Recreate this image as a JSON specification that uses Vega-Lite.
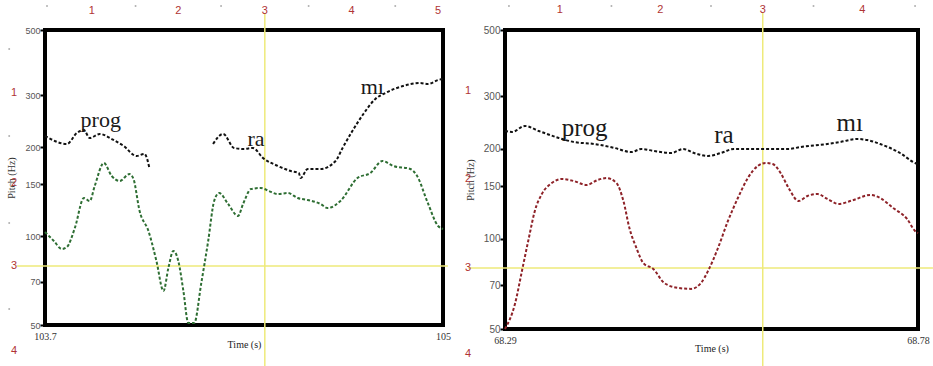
{
  "$schema": "https://vega.github.io/schema/vega-lite/v6.json",
  "background": "white",
  "padding": {"left": 4, "top": 1, "right": 0, "bottom": 0},
  "spacing": 62,
  "bounds": "flush",
  "resolve": {"scale": {"x": "independent", "y": "independent"}},
  "config": {
    "view": {"stroke": "black", "strokeWidth": 4},
    "axisY": {"labelFont": "Liberation Sans", "labelFontSize": 9, "labelColor": "#555555", "tickColor": "#000000", "tickSize": 5, "tickWidth": 2, "domain": false, "grid": false, "labelPadding": 0, "titleFont": "Liberation Serif", "titleFontSize": 10, "titleFontWeight": "normal", "titleColor": "#333333", "titlePadding": 8},
    "axisX": {"labelFont": "Liberation Serif", "labelFontSize": 10, "labelColor": "#333333", "ticks": false, "domain": false, "grid": false, "labelFlush": false, "labelPadding": 6, "titleFont": "Liberation Serif", "titleFontSize": 10, "titleFontWeight": "normal", "titleColor": "#222222", "titlePadding": -2}
  },
  "datasets": {
    "L_curves": [
      {"s": "black", "g": "b1", "t": 103.7, "f": 218.6},
      {"s": "black", "g": "b1", "t": 103.7715, "f": 205.4},
      {"s": "black", "g": "b1", "t": 103.804, "f": 223.8},
      {"s": "black", "g": "b1", "t": 103.8268, "f": 229.1},
      {"s": "black", "g": "b1", "t": 103.846, "f": 215.2},
      {"s": "black", "g": "b1", "t": 103.879, "f": 222.1},
      {"s": "black", "g": "b1", "t": 103.918, "f": 213.5},
      {"s": "black", "g": "b1", "t": 103.957, "f": 202.2},
      {"s": "black", "g": "b1", "t": 103.999, "f": 187.0},
      {"s": "black", "g": "b1", "t": 104.025, "f": 190.0},
      {"s": "black", "g": "b1", "t": 104.041, "f": 170.3},
      {"s": "black", "g": "b2", "t": 104.249, "f": 205.4},
      {"s": "black", "g": "b2", "t": 104.282, "f": 222.1},
      {"s": "black", "g": "b2", "t": 104.3175, "f": 199.1},
      {"s": "black", "g": "b2", "t": 104.35, "f": 197.5},
      {"s": "black", "g": "b2", "t": 104.379, "f": 199.1},
      {"s": "black", "g": "b2", "t": 104.412, "f": 184.1},
      {"s": "black", "g": "b2", "t": 104.4605, "f": 173.0},
      {"s": "black", "g": "b2", "t": 104.503, "f": 166.3},
      {"s": "black", "g": "b2", "t": 104.529, "f": 163.8},
      {"s": "black", "g": "b2", "t": 104.535, "f": 157.5},
      {"s": "black", "g": "b2", "t": 104.558, "f": 169.0},
      {"s": "black", "g": "b2", "t": 104.6, "f": 169.0},
      {"s": "black", "g": "b2", "t": 104.649, "f": 179.8},
      {"s": "black", "g": "b2", "t": 104.672, "f": 199.1},
      {"s": "black", "g": "b2", "t": 104.704, "f": 227.3},
      {"s": "black", "g": "b2", "t": 104.74, "f": 259.6},
      {"s": "black", "g": "b2", "t": 104.779, "f": 291.9},
      {"s": "black", "g": "b2", "t": 104.8115, "f": 305.8},
      {"s": "black", "g": "b2", "t": 104.87, "f": 323.0},
      {"s": "black", "g": "b2", "t": 104.925, "f": 330.6},
      {"s": "black", "g": "b2", "t": 104.951, "f": 328.0},
      {"s": "black", "g": "b2", "t": 104.984, "f": 338.4},
      {"s": "black", "g": "b2", "t": 105.0, "f": 341.1},
      {"s": "green", "g": "g", "t": 103.7, "f": 103.3},
      {"s": "green", "g": "g", "t": 103.7065, "f": 101.7},
      {"s": "green", "g": "g", "t": 103.729, "f": 96.3},
      {"s": "green", "g": "g", "t": 103.755, "f": 90.5},
      {"s": "green", "g": "g", "t": 103.7715, "f": 91.9},
      {"s": "green", "g": "g", "t": 103.7975, "f": 106.6},
      {"s": "green", "g": "g", "t": 103.827, "f": 134.7},
      {"s": "green", "g": "g", "t": 103.846, "f": 131.6},
      {"s": "green", "g": "g", "t": 103.8625, "f": 148.0},
      {"s": "green", "g": "g", "t": 103.892, "f": 177.1},
      {"s": "green", "g": "g", "t": 103.918, "f": 160.0},
      {"s": "green", "g": "g", "t": 103.944, "f": 153.9},
      {"s": "green", "g": "g", "t": 103.976, "f": 162.5},
      {"s": "green", "g": "g", "t": 103.989, "f": 156.3},
      {"s": "green", "g": "g", "t": 104.009, "f": 121.7},
      {"s": "green", "g": "g", "t": 104.038, "f": 104.1},
      {"s": "green", "g": "g", "t": 104.064, "f": 82.4},
      {"s": "green", "g": "g", "t": 104.087, "f": 65.2},
      {"s": "green", "g": "g", "t": 104.103, "f": 78.0},
      {"s": "green", "g": "g", "t": 104.119, "f": 89.1},
      {"s": "green", "g": "g", "t": 104.1355, "f": 82.4},
      {"s": "green", "g": "g", "t": 104.152, "f": 65.2},
      {"s": "green", "g": "g", "t": 104.168, "f": 50.8},
      {"s": "green", "g": "g", "t": 104.1875, "f": 50.8},
      {"s": "green", "g": "g", "t": 104.21, "f": 68.9},
      {"s": "green", "g": "g", "t": 104.233, "f": 96.3},
      {"s": "green", "g": "g", "t": 104.2525, "f": 131.6},
      {"s": "green", "g": "g", "t": 104.269, "f": 140.1},
      {"s": "green", "g": "g", "t": 104.298, "f": 128.6},
      {"s": "green", "g": "g", "t": 104.3305, "f": 117.1},
      {"s": "green", "g": "g", "t": 104.347, "f": 128.6},
      {"s": "green", "g": "g", "t": 104.373, "f": 144.5},
      {"s": "green", "g": "g", "t": 104.405, "f": 145.7},
      {"s": "green", "g": "g", "t": 104.431, "f": 142.3},
      {"s": "green", "g": "g", "t": 104.4605, "f": 139.0},
      {"s": "green", "g": "g", "t": 104.493, "f": 140.1},
      {"s": "green", "g": "g", "t": 104.5255, "f": 134.7},
      {"s": "green", "g": "g", "t": 104.558, "f": 132.6},
      {"s": "green", "g": "g", "t": 104.6, "f": 128.6},
      {"s": "green", "g": "g", "t": 104.623, "f": 124.6},
      {"s": "green", "g": "g", "t": 104.665, "f": 131.6},
      {"s": "green", "g": "g", "t": 104.7205, "f": 157.5},
      {"s": "green", "g": "g", "t": 104.763, "f": 163.8},
      {"s": "green", "g": "g", "t": 104.802, "f": 179.8},
      {"s": "green", "g": "g", "t": 104.8375, "f": 173.0},
      {"s": "green", "g": "g", "t": 104.893, "f": 169.0},
      {"s": "green", "g": "g", "t": 104.9155, "f": 160.0},
      {"s": "green", "g": "g", "t": 104.948, "f": 131.6},
      {"s": "green", "g": "g", "t": 104.984, "f": 108.3},
      {"s": "green", "g": "g", "t": 105.0, "f": 105.8}
    ],
    "R_curves": [
      {"s": "black", "g": "b", "t": 68.29, "f": 229.7},
      {"s": "black", "g": "b", "t": 68.2983, "f": 228.0},
      {"s": "black", "g": "b", "t": 68.3136, "f": 238.7},
      {"s": "black", "g": "b", "t": 68.3301, "f": 229.7},
      {"s": "black", "g": "b", "t": 68.3538, "f": 217.7},
      {"s": "black", "g": "b", "t": 68.3715, "f": 211.1},
      {"s": "black", "g": "b", "t": 68.3963, "f": 207.8},
      {"s": "black", "g": "b", "t": 68.4199, "f": 201.6},
      {"s": "black", "g": "b", "t": 68.44, "f": 195.4},
      {"s": "black", "g": "b", "t": 68.4518, "f": 200.0},
      {"s": "black", "g": "b", "t": 68.4671, "f": 196.9},
      {"s": "black", "g": "b", "t": 68.4872, "f": 193.9},
      {"s": "black", "g": "b", "t": 68.5013, "f": 200.0},
      {"s": "black", "g": "b", "t": 68.5143, "f": 193.9},
      {"s": "black", "g": "b", "t": 68.5309, "f": 189.5},
      {"s": "black", "g": "b", "t": 68.5462, "f": 193.9},
      {"s": "black", "g": "b", "t": 68.5616, "f": 200.0},
      {"s": "black", "g": "b", "t": 68.5934, "f": 200.0},
      {"s": "black", "g": "b", "t": 68.6265, "f": 200.0},
      {"s": "black", "g": "b", "t": 68.6407, "f": 203.1},
      {"s": "black", "g": "b", "t": 68.6725, "f": 207.8},
      {"s": "black", "g": "b", "t": 68.6879, "f": 211.1},
      {"s": "black", "g": "b", "t": 68.7079, "f": 216.0},
      {"s": "black", "g": "b", "t": 68.7198, "f": 214.3},
      {"s": "black", "g": "b", "t": 68.7351, "f": 207.8},
      {"s": "black", "g": "b", "t": 68.7587, "f": 193.9},
      {"s": "black", "g": "b", "t": 68.7765, "f": 179.6},
      {"s": "black", "g": "b", "t": 68.78, "f": 178.2},
      {"s": "red", "g": "r", "t": 68.29, "f": 50.0},
      {"s": "red", "g": "r", "t": 68.3018, "f": 60.6},
      {"s": "red", "g": "r", "t": 68.3101, "f": 78.2},
      {"s": "red", "g": "r", "t": 68.3183, "f": 100.8},
      {"s": "red", "g": "r", "t": 68.3254, "f": 124.1},
      {"s": "red", "g": "r", "t": 68.3337, "f": 141.4},
      {"s": "red", "g": "r", "t": 68.3455, "f": 153.9},
      {"s": "red", "g": "r", "t": 68.3573, "f": 158.8},
      {"s": "red", "g": "r", "t": 68.3715, "f": 156.3},
      {"s": "red", "g": "r", "t": 68.3868, "f": 151.6},
      {"s": "red", "g": "r", "t": 68.4, "f": 157.5},
      {"s": "red", "g": "r", "t": 68.4104, "f": 159.9},
      {"s": "red", "g": "r", "t": 68.4222, "f": 153.9},
      {"s": "red", "g": "r", "t": 68.4305, "f": 134.0},
      {"s": "red", "g": "r", "t": 68.4376, "f": 108.8},
      {"s": "red", "g": "r", "t": 68.4459, "f": 93.3},
      {"s": "red", "g": "r", "t": 68.4541, "f": 83.1},
      {"s": "red", "g": "r", "t": 68.4659, "f": 79.4},
      {"s": "red", "g": "r", "t": 68.4789, "f": 71.3},
      {"s": "red", "g": "r", "t": 68.4954, "f": 68.6},
      {"s": "red", "g": "r", "t": 68.5108, "f": 68.1},
      {"s": "red", "g": "r", "t": 68.5226, "f": 71.3},
      {"s": "red", "g": "r", "t": 68.5309, "f": 78.2},
      {"s": "red", "g": "r", "t": 68.5427, "f": 93.3},
      {"s": "red", "g": "r", "t": 68.5545, "f": 114.9},
      {"s": "red", "g": "r", "t": 68.5663, "f": 137.1},
      {"s": "red", "g": "r", "t": 68.5781, "f": 159.9},
      {"s": "red", "g": "r", "t": 68.5899, "f": 175.5},
      {"s": "red", "g": "r", "t": 68.5993, "f": 179.6},
      {"s": "red", "g": "r", "t": 68.6076, "f": 178.2},
      {"s": "red", "g": "r", "t": 68.617, "f": 166.2},
      {"s": "red", "g": "r", "t": 68.6265, "f": 148.1},
      {"s": "red", "g": "r", "t": 68.6383, "f": 134.0},
      {"s": "red", "g": "r", "t": 68.6489, "f": 139.3},
      {"s": "red", "g": "r", "t": 68.6607, "f": 141.4},
      {"s": "red", "g": "r", "t": 68.6725, "f": 136.1},
      {"s": "red", "g": "r", "t": 68.6856, "f": 131.0},
      {"s": "red", "g": "r", "t": 68.7033, "f": 135.0},
      {"s": "red", "g": "r", "t": 68.7233, "f": 140.4},
      {"s": "red", "g": "r", "t": 68.7351, "f": 137.1},
      {"s": "red", "g": "r", "t": 68.7505, "f": 127.0},
      {"s": "red", "g": "r", "t": 68.767, "f": 116.7},
      {"s": "red", "g": "r", "t": 68.7765, "f": 106.4},
      {"s": "red", "g": "r", "t": 68.78, "f": 104.7}
    ],
    "L_rules": [
      {"t": 104.418, "f": 571, "t2": 104.418, "f2": 36},
      {"t": 103.609, "f": 79.25, "t2": 105.016, "f2": 79.25}
    ],
    "R_rules": [
      {"t": 68.5958, "f": 570, "t2": 68.5958, "f2": 37.3},
      {"t": 68.2463, "f": 80.0, "t2": 68.7977, "f2": 80.0}
    ],
    "L_syl": [
      {"t": 103.882, "f": 234.6, "l": "prog"},
      {"t": 104.389, "f": 202.2, "l": "ra"},
      {"t": 104.769, "f": 303.4, "l": "mı"}
    ],
    "R_syl": [
      {"t": 68.3845, "f": 221.1, "l": "prog"},
      {"t": 68.5498, "f": 209.5, "l": "ra"},
      {"t": 68.6989, "f": 229.7, "l": "mı"}
    ],
    "L_grid": [
      {"t": 103.853, "f": 580, "l": "1"},
      {"t": 104.1355, "f": 580, "l": "2"},
      {"t": 104.418, "f": 580, "l": "3"},
      {"t": 104.701, "f": 580, "l": "4"},
      {"t": 104.984, "f": 580, "l": "5"},
      {"t": 103.599, "f": 305.8, "l": "1"},
      {"t": 103.599, "f": 151.5, "l": "2"},
      {"t": 103.599, "f": 79.25, "l": "3"},
      {"t": 103.599, "f": 40.8, "l": "4"}
    ],
    "R_grid": [
      {"t": 68.3549, "f": 583.4, "l": "1"},
      {"t": 68.4742, "f": 583.4, "l": "2"},
      {"t": 68.5958, "f": 583.4, "l": "3"},
      {"t": 68.7139, "f": 583.4, "l": "4"},
      {"t": 68.2463, "f": 312.6, "l": "1"},
      {"t": 68.2463, "f": 158.8, "l": "2"},
      {"t": 68.2463, "f": 80.0, "l": "3"},
      {"t": 68.2463, "f": 41.2, "l": "4"}
    ],
    "L_dots": [
      {"t": 103.7065, "f": 603},
      {"t": 103.9958, "f": 603},
      {"t": 104.275, "f": 603},
      {"t": 104.561, "f": 603},
      {"t": 104.844, "f": 603},
      {"t": 103.583, "f": 431},
      {"t": 103.583, "f": 218.6},
      {"t": 103.583, "f": 110.8},
      {"t": 103.583, "f": 56.6}
    ],
    "R_dots": [
      {"t": 68.2947, "f": 601.5},
      {"t": 68.4163, "f": 601.5},
      {"t": 68.5344, "f": 601.5},
      {"t": 68.656, "f": 601.5},
      {"t": 68.7765, "f": 601.5}
    ]
  },
  "hconcat": [
    {
      "width": 398,
      "height": 295,
      "encoding": {
        "x": {"field": "t", "type": "quantitative", "scale": {"domain": [103.7, 105], "nice": false, "zero": false}, "axis": {"values": [103.7, 105], "format": ".4~g", "title": "Time (s)"}},
        "y": {"field": "f", "type": "quantitative", "scale": {"type": "log", "domain": [50, 500], "nice": false}, "axis": {"values": [50, 70, 100, 150, 200, 300, 500], "format": "~g", "title": "Pitch (Hz)"}}
      },
      "layer": [
        {"data": {"name": "L_rules"}, "mark": {"type": "rule", "color": "#eeea7a", "strokeWidth": 1.5}, "encoding": {"x2": {"field": "t2"}, "y2": {"field": "f2"}}},
        {"data": {"name": "L_grid"}, "mark": {"type": "text", "font": "Liberation Sans", "fontSize": 11, "color": "#b03434", "baseline": "middle", "align": "center"}, "encoding": {"text": {"field": "l"}}},
        {"data": {"name": "L_dots"}, "mark": {"type": "point", "filled": true, "size": 4, "color": "#b0b0b0", "opacity": 1}, "encoding": {}},
        {"data": {"name": "L_curves"}, "mark": {"type": "line", "strokeDash": [3, 2], "strokeWidth": 2, "interpolate": "monotone"}, "encoding": {"color": {"field": "s", "type": "nominal", "scale": {"domain": ["black", "green", "red"], "range": ["#111111", "#2e6e33", "#8e2228"]}, "legend": null}, "detail": {"field": "g"}}},
        {"data": {"name": "L_syl"}, "mark": {"type": "text", "font": "Liberation Serif", "fontSize": 22, "baseline": "alphabetic", "align": "center", "color": "#1a1a1a"}, "encoding": {"text": {"field": "l"}}}
      ]
    },
    {
      "width": 413,
      "height": 299,
      "encoding": {
        "x": {"field": "t", "type": "quantitative", "scale": {"domain": [68.29, 68.78], "nice": false, "zero": false}, "axis": {"values": [68.29, 68.78], "format": ".4~g", "title": "Time (s)"}},
        "y": {"field": "f", "type": "quantitative", "scale": {"type": "log", "domain": [50, 500], "nice": false}, "axis": {"values": [50, 70, 100, 150, 200, 300, 500], "format": "~g", "title": "Pitch (Hz)", "labelFontSize": 10}}
      },
      "layer": [
        {"data": {"name": "R_rules"}, "mark": {"type": "rule", "color": "#eeea7a", "strokeWidth": 1.5}, "encoding": {"x2": {"field": "t2"}, "y2": {"field": "f2"}}},
        {"data": {"name": "R_grid"}, "mark": {"type": "text", "font": "Liberation Sans", "fontSize": 11, "color": "#b03434", "baseline": "middle", "align": "center"}, "encoding": {"text": {"field": "l"}}},
        {"data": {"name": "R_dots"}, "mark": {"type": "point", "filled": true, "size": 4, "color": "#b0b0b0", "opacity": 1}, "encoding": {}},
        {"data": {"name": "R_curves"}, "mark": {"type": "line", "strokeDash": [3, 2], "strokeWidth": 2, "interpolate": "monotone"}, "encoding": {"color": {"field": "s", "type": "nominal", "scale": {"domain": ["black", "green", "red"], "range": ["#111111", "#2e6e33", "#8e2228"]}, "legend": null}, "detail": {"field": "g"}}},
        {"data": {"name": "R_syl"}, "mark": {"type": "text", "font": "Liberation Serif", "fontSize": 25, "baseline": "alphabetic", "align": "center", "color": "#1a1a1a"}, "encoding": {"text": {"field": "l"}}}
      ]
    }
  ]
}
